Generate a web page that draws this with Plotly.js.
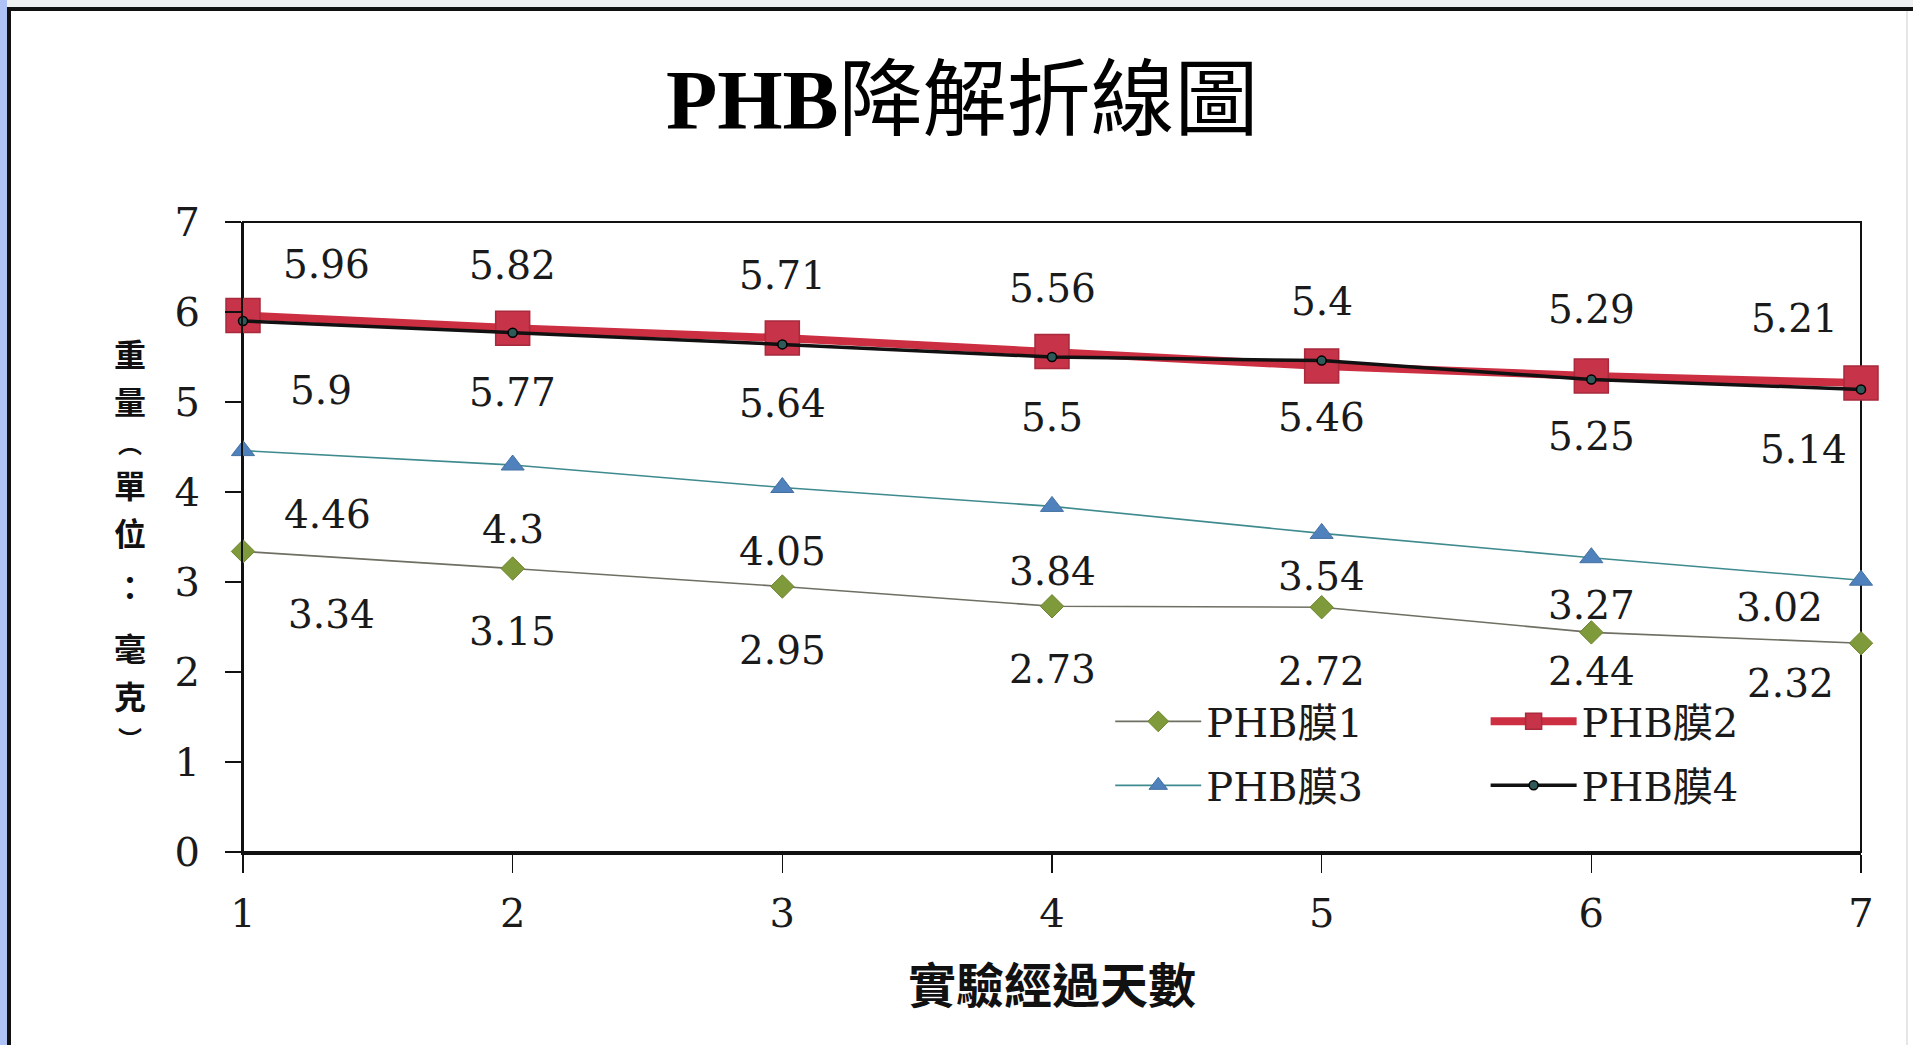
<!DOCTYPE html>
<html>
<head>
<meta charset="utf-8">
<script src="https://cdn.plot.ly/plotly-3.0.1.min.js"></script>
<style>
  html, body { margin: 0; padding: 0; background: #fff; overflow: hidden; }
  #chart { position: absolute; left: 0; top: 0; width: 1913px; height: 1045px; }
  .edge { position: absolute; pointer-events: none; }
</style>
</head>
<body>
<div id="chart"></div>
<!-- page frame around the chart -->
<div class="edge" style="left:7px;top:0;width:1906px;height:7px;background:#eef0f2"></div>
<div class="edge" style="left:0;top:0;width:7px;height:1045px;background:#aec2f6"></div>
<div class="edge" style="left:7px;top:7px;width:4px;height:1038px;background:#111"></div>
<div class="edge" style="left:7px;top:7px;width:1906px;height:4px;background:#111"></div>
<div class="edge" style="left:1906px;top:11px;width:2px;height:1034px;background:#e6e6e6"></div>
<script>
// Days of the experiment
const days = [1, 2, 3, 4, 5, 6, 7];

// Film names
const seriesNames = ['PHB膜1', 'PHB膜2', 'PHB膜3', 'PHB膜4'];

// Weight of each film (mg)
const film1 = [3.34, 3.15, 2.95, 2.73, 2.72, 2.44, 2.32];
const film2 = [5.96, 5.82, 5.71, 5.56, 5.4, 5.29, 5.21];
const film3 = [4.46, 4.3, 4.05, 3.84, 3.54, 3.27, 3.02];
const film4 = [5.9, 5.77, 5.64, 5.5, 5.46, 5.25, 5.14];

// Text
const chartTitle = '<b>PHB</b>降解折線圖';
const xTitle = '實驗經過天數';
const yTitleChars = ['重', '量', '︵', '單', '位', '：', '毫', '克', '︶'];
const xTickLabels = ['1', '2', '3', '4', '5', '6', '7'];
const yTickVals = [0, 1, 2, 3, 4, 5, 6, 7];

// ---- styling ----
const serif = 'DejaVu Serif, Noto Sans CJK TC, serif';
const cjk = 'Noto Sans CJK TC, sans-serif';

const styles = [
  { line: { color: '#6f6f63', width: 1.6 },
    marker: { symbol: 'diamond', size: 18, color: '#7f9a3a', line: { color: '#6f8530', width: 1 } },
    legend: 'legend' },
  { line: { color: '#cc2f42', width: 8 },
    marker: { symbol: 'square', size: 34, color: '#c73348', line: { color: '#a82a3c', width: 1.5 } },
    legend: 'legend2' },
  { line: { color: '#3e8a8e', width: 1.6 },
    marker: { symbol: 'triangle-up', size: 20, color: '#4f81bd', line: { color: '#44709f', width: 1 } },
    legend: 'legend' },
  { line: { color: '#111111', width: 3.5 },
    marker: { symbol: 'circle', size: 9, color: '#2e5a5a', line: { color: '#000', width: 1.5 } },
    legend: 'legend2' }
];

// value-label nudges in pixels: [dx, dy] per point (dy positive = up)
const labelNudge = [
  { dx: [88, 0, 0, 0, 0, 0, -71], dy: [-63, -63, -64, -63, -64, -39, -40] },
  { dx: [83, 0, 0, 0, 0, 0, -67], dy: [51, 63, 63, 63, 65, 66, 65] },
  { dx: [84, 0, 0, 0, 0, 0, -82], dy: [-64, -64, -64, -65, -43, -48, -27] },
  { dx: [78, 0, 0, 0, 0, 0, -58], dy: [-69, -60, -59, -60, -57, -57, -60] }
];

// vertical placement (px above the x axis) and size of each y-title glyph
const yTitleShift = [499, 452, 410, 368, 320, 266, 205, 157, 115];
const yTitleSize = [32, 32, 24, 32, 32, 32, 32, 32, 24];

const allSeries = [film1, film2, film3, film4];

const traces = allSeries.map((vals, i) => ({
  type: 'scatter',
  mode: 'lines+markers',
  name: seriesNames[i],
  legendgroup: 'g' + i,
  x: days,
  y: vals,
  line: styles[i].line,
  marker: styles[i].marker,
  legend: styles[i].legend,
  cliponaxis: false,
  hoverinfo: 'x+y+name'
}));

const annotations = [];
allSeries.forEach((vals, i) => {
  vals.forEach((v, j) => {
    annotations.push({
      x: days[j], y: v, xref: 'x', yref: 'y',
      text: String(v), showarrow: false,
      xanchor: 'center', yanchor: 'middle',
      xshift: labelNudge[i].dx[j], yshift: labelNudge[i].dy[j],
      font: { family: serif, size: 39, color: '#1a1a1a' }
    });
  });
});

// y-axis title, written top to bottom one glyph at a time
yTitleChars.forEach((ch, k) => {
  annotations.push({
    xref: 'paper', yref: 'paper', x: 0, y: 0,
    xshift: -113, yshift: yTitleShift[k],
    xanchor: 'center', yanchor: 'middle',
    text: ch, showarrow: false,
    font: { family: cjk, size: yTitleSize[k], color: '#111', weight: 'bold' }
  });
});

// x-axis title
annotations.push({
  xref: 'paper', yref: 'paper', x: 0.5, y: 0,
  yshift: -130, xanchor: 'center', yanchor: 'middle',
  text: xTitle, showarrow: false,
  font: { family: cjk, size: 48, color: '#111', weight: 'bold' }
});

const legendBase = {
  xref: 'paper', yref: 'paper',
  xanchor: 'left', yanchor: 'top',
  orientation: 'v',
  bgcolor: 'rgba(0,0,0,0)',
  borderwidth: 0,
  itemwidth: 86,
  tracegroupgap: 9,
  font: { family: serif, size: 40, color: '#1a1a1a' }
};

const layout = {
  width: 1913,
  height: 1045,
  autosize: false,
  margin: { l: 243, r: 52, t: 222, b: 193, pad: 0 },
  paper_bgcolor: '#ffffff',
  plot_bgcolor: '#ffffff',
  title: {
    text: chartTitle,
    font: { family: 'Liberation Serif, Noto Sans CJK TC, serif', size: 84, color: '#000' },
    xref: 'container', x: 0.503, xanchor: 'center',
    yref: 'container', y: 1 - 100 / 1045, yanchor: 'middle'
  },
  xaxis: {
    range: [1, 7],
    tickvals: days,
    ticktext: xTickLabels,
    showgrid: false,
    zeroline: false,
    showline: true,
    linecolor: '#111',
    linewidth: 3,
    ticks: 'outside',
    ticklen: 18,
    tickwidth: 1.5,
    tickcolor: '#111',
    ticklabelstandoff: 6,
    tickfont: { family: serif, size: 40, color: '#1a1a1a' }
  },
  yaxis: {
    range: [0, 7],
    tickvals: yTickVals,
    showgrid: false,
    zeroline: false,
    showline: true,
    linecolor: '#111',
    linewidth: 2,
    ticks: 'outside',
    ticklen: 16,
    tickwidth: 1.5,
    tickcolor: '#111',
    ticklabelstandoff: 17,
    tickfont: { family: serif, size: 40, color: '#1a1a1a' }
  },
  shapes: [{
    type: 'rect', xref: 'paper', yref: 'paper',
    x0: 0, x1: 1, y0: 0, y1: 1,
    line: { color: '#111', width: 2 }, layer: 'below'
  }],
  legend: Object.assign({}, legendBase, { x: 0.536, y: 0.259 }),
  legend2: Object.assign({}, legendBase, { x: 0.768, y: 0.259 }),
  annotations: annotations,
  showlegend: true
};

Plotly.newPlot('chart', traces, layout, { displayModeBar: false, staticPlot: true });
</script>
</body>
</html>
